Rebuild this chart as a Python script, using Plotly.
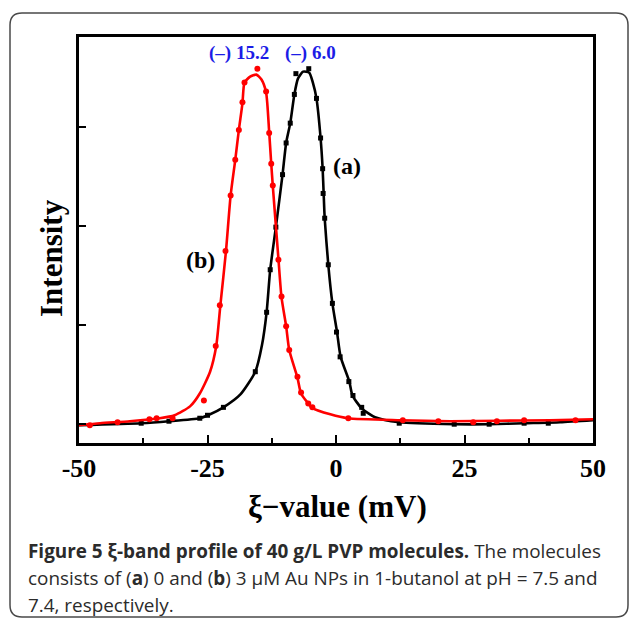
import plotly.graph_objects as go

# ---- data (xi-value in mV, intensity in arbitrary units) ----
# (a) 0 uM Au NPs - measured points
a_x = [-37.9, -32.5, -26.5, -25.0, -21.9, -15.7, -13.5, -12.8, -11.7, -10.4, -9.7, -8.9, -8.1,
       -7.8, -5.3, -3.8, -3.0, -2.6, -2.5, -2.2, -1.5, -0.7, 0.1, 0.8, 2.5, 3.3, 5.0, 5.3,
       12.3, 23.0, 29.8, 36.6, 41.3]
a_y = [0.01, 0.03, 0.06, 0.09, 0.17, 0.53, 1.13, 1.56, 1.99, 2.52, 2.84, 3.04, 3.33,
       3.54, 3.59, 3.29, 2.89, 2.58, 2.33, 2.08, 1.61, 1.22, 0.93, 0.68, 0.43, 0.29, 0.17, 0.11,
       0.01, 0.00, 0.00, 0.01, 0.01]
# (a) fitted curve
a_fit_x = [-50.0, -37.9, -32.5, -26.5, -24.9, -21.9, -18.6, -15.7, -14.4, -13.5, -12.8, -11.7,
           -10.4, -9.7, -8.9, -8.1, -7.4, -6.4, -5.2, -4.5, -3.8, -3.0, -2.6, -2.4, -2.2, -1.5,
           -0.7, 0.2, 0.9, 2.6, 3.2, 5.0, 7.6, 12.3, 23.0, 29.8, 36.6, 43.6, 50.0]
a_fit_y = [-0.01, 0.01, 0.03, 0.06, 0.09, 0.17, 0.30, 0.53, 0.80, 1.13, 1.56, 1.99,
           2.52, 2.84, 3.04, 3.33, 3.49, 3.56, 3.55, 3.45, 3.29, 2.89, 2.58, 2.33, 2.08, 1.61,
           1.22, 0.93, 0.68, 0.43, 0.29, 0.16, 0.07, 0.02, 0.00, 0.00, 0.01, 0.02, 0.04]

# (b) 3 uM Au NPs - measured points
b_x = [-47.9, -42.5, -36.3, -34.9, -31.8, -25.7, -23.4, -22.6, -21.5, -20.5, -19.6, -18.9,
       -18.2, -17.8, -15.3, -13.6, -13.0, -12.6, -12.3, -11.2, -10.6, -9.7, -9.1, -7.5, -6.8,
       -5.4, -4.6, 2.4, 13.0, 19.9, 26.7, 31.3, 36.6, 46.6]
b_y = [-0.01, 0.02, 0.05, 0.06, 0.06, 0.24, 0.79, 1.20, 1.75, 2.31, 2.67, 2.97,
       3.25, 3.45, 3.59, 3.36, 2.94, 2.63, 2.41, 1.66, 1.29, 0.99, 0.75, 0.48, 0.32,
       0.21, 0.17, 0.06, 0.04, 0.03, 0.02, 0.03, 0.04, 0.04]
# (b) fitted curve
b_fit_x = [-50.0, -45.9, -40.1, -34.3, -31.4, -28.4, -26.5, -24.5, -23.3, -22.5, -21.4, -20.5,
           -19.6, -18.9, -18.2, -17.8, -16.7, -15.5, -14.5, -13.6, -13.0, -12.6, -12.3, -11.2,
           -10.6, -9.7, -9.1, -7.5, -6.8, -5.4, -4.5, -1.1, 2.3, 12.5, 22.2, 31.9, 41.6, 50.0]
b_fit_y = [-0.01, 0.01, 0.03, 0.06, 0.09, 0.18, 0.31, 0.53, 0.79, 1.20, 1.75, 2.31,
           2.67, 2.97, 3.24, 3.45, 3.51, 3.53, 3.48, 3.35, 2.95, 2.63, 2.41, 1.67,
           1.28, 0.99, 0.75, 0.47, 0.31, 0.21, 0.16, 0.10, 0.06, 0.04, 0.03, 0.035, 0.04, 0.05]

x_ticks = [-50, -25, 0, 25, 50]
x_tick_text = ["-50", "-25", "0", "25", "50"]
y_ticks = [0, 1, 2, 3]

peak_labels = ["(\u2013) 15.2", "(\u2013) 6.0"]
peak_label_x = [-25.1, -10.3]
curve_labels = ["(a)", "(b)"]
curve_label_pos = [(2.1, 2.61), (-26.3, 1.66)]

caption_lines = [
    "<b>Figure 5 \u03be-band profile of 40 g/L PVP molecules.</b> The molecules",
    "consists of (<b>a</b>) 0 and (<b>b</b>) 3 \u00b5M Au NPs in 1-butanol at pH = 7.5 and",
    "7.4, respectively.",
]

SERIF = "Liberation Serif, Times New Roman, serif"

fig = go.Figure()
fig.add_trace(go.Scatter(x=a_fit_x, y=a_fit_y, mode="lines", line=dict(color="black", width=2.6, shape="spline", smoothing=0.6),
                         showlegend=False, hoverinfo="skip"))
fig.add_trace(go.Scatter(x=a_x, y=a_y, mode="markers", marker=dict(symbol="square", color="black", size=5),
                         showlegend=False))
fig.add_trace(go.Scatter(x=b_fit_x, y=b_fit_y, mode="lines", line=dict(color="#ff0000", width=2.6, shape="spline", smoothing=0.6),
                         showlegend=False, hoverinfo="skip"))
fig.add_trace(go.Scatter(x=b_x, y=b_y, mode="markers", marker=dict(symbol="circle", color="#ff0000", size=6),
                         showlegend=False))

annotations = []
for t, xx in zip(peak_labels, peak_label_x):
    annotations.append(dict(x=xx, y=3.75, xref="x", yref="y", text=t, showarrow=False, xanchor="left",
                            font=dict(family=SERIF, size=19, color="#1c1ce6", weight="bold")))
for t, (xx, yy) in zip(curve_labels, curve_label_pos):
    annotations.append(dict(x=xx, y=yy, xref="x", yref="y", text=t, showarrow=False,
                            font=dict(family=SERIF, size=24, color="black", weight="bold")))
annotations.append(dict(x=-0.0525, y=0.4557, xref="paper", yref="paper", text="Intensity", textangle=-90,
                        xanchor="center", yanchor="middle",
                        showarrow=False, font=dict(family=SERIF, size=31, color="black", weight="bold")))
annotations.append(dict(x=0.502, y=-0.1576, xref="paper", yref="paper", text="\u03be\u2212value (mV)",
                        xanchor="center", yanchor="middle",
                        showarrow=False, font=dict(family=SERIF, size=31, color="black", weight="bold")))
cap_y = [-0.266, -0.3325, -0.399]
for t, yy in zip(caption_lines, cap_y):
    annotations.append(dict(x=(26 - 79) / 514, y=yy, xref="paper", yref="paper", text=t, showarrow=False,
                            xanchor="left", yanchor="middle",
                            font=dict(family="Open Sans, Noto Sans, sans-serif", size=18.9, color="#2b2b2b")))

# outer rounded frame (paper coordinates)
x0, x1, yt, yb = (10 - 79) / 514, (628 - 79) / 514, (443 - 13) / 406, (443 - 617) / 406
rx, ry = 12 / 514, 12 / 406
path = (f"M {x0+rx},{yt} L {x1-rx},{yt} Q {x1},{yt} {x1},{yt-ry} L {x1},{yb+ry} Q {x1},{yb} {x1-rx},{yb} "
        f"L {x0+rx},{yb} Q {x0},{yb} {x0},{yb+ry} L {x0},{yt-ry} Q {x0},{yt} {x0+rx},{yt} Z")

fig.update_layout(
    width=629, height=620,
    margin=dict(l=79, r=36, t=37, b=177),
    paper_bgcolor="white", plot_bgcolor="white",
    annotations=annotations,
    shapes=[dict(type="path", path=path, xref="paper", yref="paper", line=dict(color="#4a4a4a", width=1.5), layer="below")],
    xaxis=dict(range=[-50, 50], tickvals=x_ticks, ticktext=x_tick_text, ticks="inside", ticklen=8, tickwidth=2,
               tickcolor="black", showline=True, linecolor="black", linewidth=3, mirror=True, showgrid=False,
               zeroline=False, automargin=False, tickfont=dict(family=SERIF, size=26, color="black", weight="bold"),
               minor=dict(ticks="inside", ticklen=5, tickwidth=2, tickcolor="black", dtick=12.5, tick0=-50, showgrid=False)),
    yaxis=dict(range=[-0.19, 3.91], tickvals=y_ticks, showticklabels=False, ticks="inside", ticklen=7, tickwidth=2,
               tickcolor="black", showline=True, linecolor="black", linewidth=3, mirror=True, showgrid=False,
               zeroline=False, automargin=False),
)

fig.write_html("out.html", config={"displayModeBar": False},
               post_script="document.body.style.margin='0px';document.body.style.overflow='hidden';")
